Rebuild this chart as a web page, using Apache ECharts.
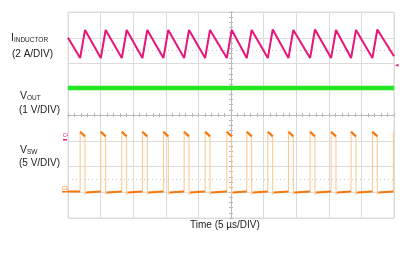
<!DOCTYPE html>
<html><head><meta charset="utf-8">
<script src="https://cdn.jsdelivr.net/npm/echarts@6/dist/echarts.min.js"></script>
<style>html,body{margin:0;padding:0;background:#fff}#c{width:409px;height:267px}</style>
</head><body><div id="c"></div>
<script>
// Horizontal: time in µs (10 divisions x 5 µs). Vertical: screen divisions (0..8).
const timeMin = 0, timeMax = 50, timeDiv = 5;
const divMin = 0, divMax = 8;

// Inductor current trace, in divisions
const inductorTime  = [0, 1.86, 2.61, 5.03, 5.78, 8.25, 9.00, 11.41, 12.16, 14.63, 15.38, 17.81, 18.56, 21.03, 21.78, 24.36, 25.11, 27.42, 28.17, 30.65, 31.40, 33.81, 34.56, 37.13, 37.88, 40.35, 41.10, 43.42, 44.17, 46.69, 47.44, 50];
const inductorLevel = [7.00, 6.21, 7.30, 6.21, 7.30, 6.21, 7.30, 6.21, 7.30, 6.21, 7.30, 6.21, 7.30, 6.21, 7.30, 6.21, 7.30, 6.21, 7.30, 6.21, 7.32, 6.21, 7.30, 6.21, 7.32, 6.21, 7.30, 6.21, 7.30, 6.21, 7.32, 6.28];

// Output voltage trace
const voutTime  = [0, 50];
const voutLevel = [5.05, 5.05];

// Switch node: edge times (µs) and levels (divisions)
const switchRise = [1.86, 5.03, 8.25, 11.41, 14.63, 17.81, 21.03, 24.36, 27.42, 30.65, 33.81, 37.13, 40.35, 43.42, 46.69, 49.90];
const switchFall = [2.61, 5.78, 9.00, 12.16, 15.38, 18.56, 21.78, 25.11, 28.17, 31.40, 34.56, 37.88, 41.10, 44.17, 47.44];
const swLevelLow = [0.99, 1.03];      // start / end of low phase
const swLevelHigh = [3.35, 3.17];     // start / end of high phase
const swUndershoot = [0.91];

// Dotted reference levels
const refLevels = [6.5, 1.5];

const inductorData = inductorTime.map((t, i) => [t, inductorLevel[i]]);
const voutData = voutTime.map((t, i) => [t, voutLevel[i]]);

const swEdge = [[timeMin, swLevelLow[1]]];
const swFlat = [[timeMin, swLevelLow[1]]];
for (let i = 0; i < switchRise.length; i++) {
  const r = switchRise[i], f = switchFall[i];
  swEdge.push([r, swLevelLow[1]], [r, swLevelHigh[0]]);
  swFlat.push([r, swLevelLow[1]], [r, '-'], [r, swLevelHigh[0]]);
  if (f !== undefined) {
    swEdge.push([f, swLevelHigh[1]], [f, swUndershoot[0]], [f + 0.15, swLevelLow[0]]);
    swFlat.push([f, swLevelHigh[1]], [f, '-'], [f + 0.15, swLevelLow[0]]);
  } else {
    swEdge.push([timeMax, swLevelHigh[0]]);
    swFlat.push([timeMax, swLevelHigh[0]]);
  }
}

const gridCol = '#dcdcdc', tickCol = '#b8b8b8';
const chart = echarts.init(document.getElementById('c'), null, {renderer: 'canvas'});
const centerAxisX = (inside) => ({
  type: 'value', min: timeMin, max: timeMax, interval: 1, position: 'bottom', offset: -103,
  axisLine: {show: true, lineStyle: {color: tickCol, width: 1}},
  axisTick: {show: true, inside: inside, length: 2, lineStyle: {color: tickCol}},
  axisLabel: {show: false}, splitLine: {show: false}
});
const centerAxisY = (inside) => ({
  type: 'value', min: divMin, max: divMax, interval: 0.2, position: 'left', offset: -163,
  axisLine: {show: true, lineStyle: {color: tickCol, width: 1}},
  axisTick: {show: true, inside: inside, length: 2, lineStyle: {color: tickCol}},
  axisLabel: {show: false}, splitLine: {show: false}
});

const txt = '#222';
const font = 'Liberation Sans, Arial, sans-serif';
function subLabel(x, y, main, sub) {
  return {type: 'text', left: x, top: y, style: {
    text: '{a|' + main + '}{b|' + sub + '}',
    rich: {
      a: {fontSize: 10.5, fontFamily: font, fill: txt, color: txt, lineHeight: 12, verticalAlign: 'bottom'},
      b: {fontSize: 6.5, fontFamily: font, fill: txt, color: txt, lineHeight: 12, verticalAlign: 'bottom'}
    }
  }};
}
function plainLabel(x, y, s) {
  return {type: 'text', left: x, top: y, style: {text: s, font: '10px ' + font, fill: txt}};
}

chart.setOption({
  animation: false,
  backgroundColor: '#fff',
  grid: {left: 68, top: 12, width: 326, height: 206, show: true, borderColor: gridCol, borderWidth: 1, backgroundColor: '#fff'},
  xAxis: [
    {type: 'value', min: timeMin, max: timeMax, interval: timeDiv,
     axisLine: {show: false}, axisTick: {show: false}, axisLabel: {show: false},
     splitLine: {show: true, lineStyle: {color: gridCol, width: 1}}},
    centerAxisX(true), centerAxisX(false)
  ],
  yAxis: [
    {type: 'value', min: divMin, max: divMax, interval: 1,
     axisLine: {show: false}, axisTick: {show: false}, axisLabel: {show: false},
     splitLine: {show: true, lineStyle: {color: gridCol, width: 1}}},
    centerAxisY(true), centerAxisY(false)
  ],
  series: [
    {type: 'line', name: 'VOUT', data: voutData, showSymbol: false, symbol: 'none',
     lineStyle: {color: '#22e622', width: 4.5}, z: 3,
     markLine: {silent: true, symbol: 'none', label: {show: false},
       lineStyle: {color: '#c8c8c8', type: [1, 3], width: 1},
       data: refLevels.map(v => ({yAxis: v}))}},
    {type: 'line', name: 'VSW edges', data: swEdge, showSymbol: false, symbol: 'none',
     lineStyle: {color: '#fcc68c', width: 1}, z: 3},
    {type: 'line', name: 'VSW', data: swFlat, showSymbol: false, symbol: 'none', connectNulls: false,
     lineStyle: {color: '#f7770c', width: 2.2}, z: 4},
    {type: 'line', name: 'IL', data: inductorData, showSymbol: false, symbol: 'none',
     lineStyle: {color: '#e8157b', width: 2}, z: 5}
  ],
  graphic: [
    subLabel(11, 33, 'I', 'INDUCTOR'),
    plainLabel(12, 49, '(2 A/DIV)'),
    subLabel(20, 91, 'V', 'OUT'),
    plainLabel(19, 105, '(1 V/DIV)'),
    subLabel(20, 145, 'V', 'SW'),
    plainLabel(19, 158, '(5 V/DIV)'),
    {type: 'text', left: 190, top: 220, style: {text: 'Time (5 µs/DIV)', font: '10px ' + font, fill: txt}},
    {type: 'text', left: 63, top: 133, style: {text: 'C4', font: '5px ' + font, fill: '#e8157b'}},
    {type: 'rect', shape: {x: 63, y: 139, width: 4, height: 1.5}, style: {fill: '#e8157b'}},
    {type: 'text', left: 62, top: 186, style: {text: 'C1', font: '5px ' + font, fill: '#f7770c'}},
    {type: 'rect', shape: {x: 62, y: 191, width: 6, height: 1.5}, style: {fill: '#f7770c'}},
    {type: 'polygon', shape: {points: [[395, 65.3], [398.5, 63.8], [398.5, 66.8]]}, style: {fill: '#e8157b'}}
  ]
});
</script></body></html>
